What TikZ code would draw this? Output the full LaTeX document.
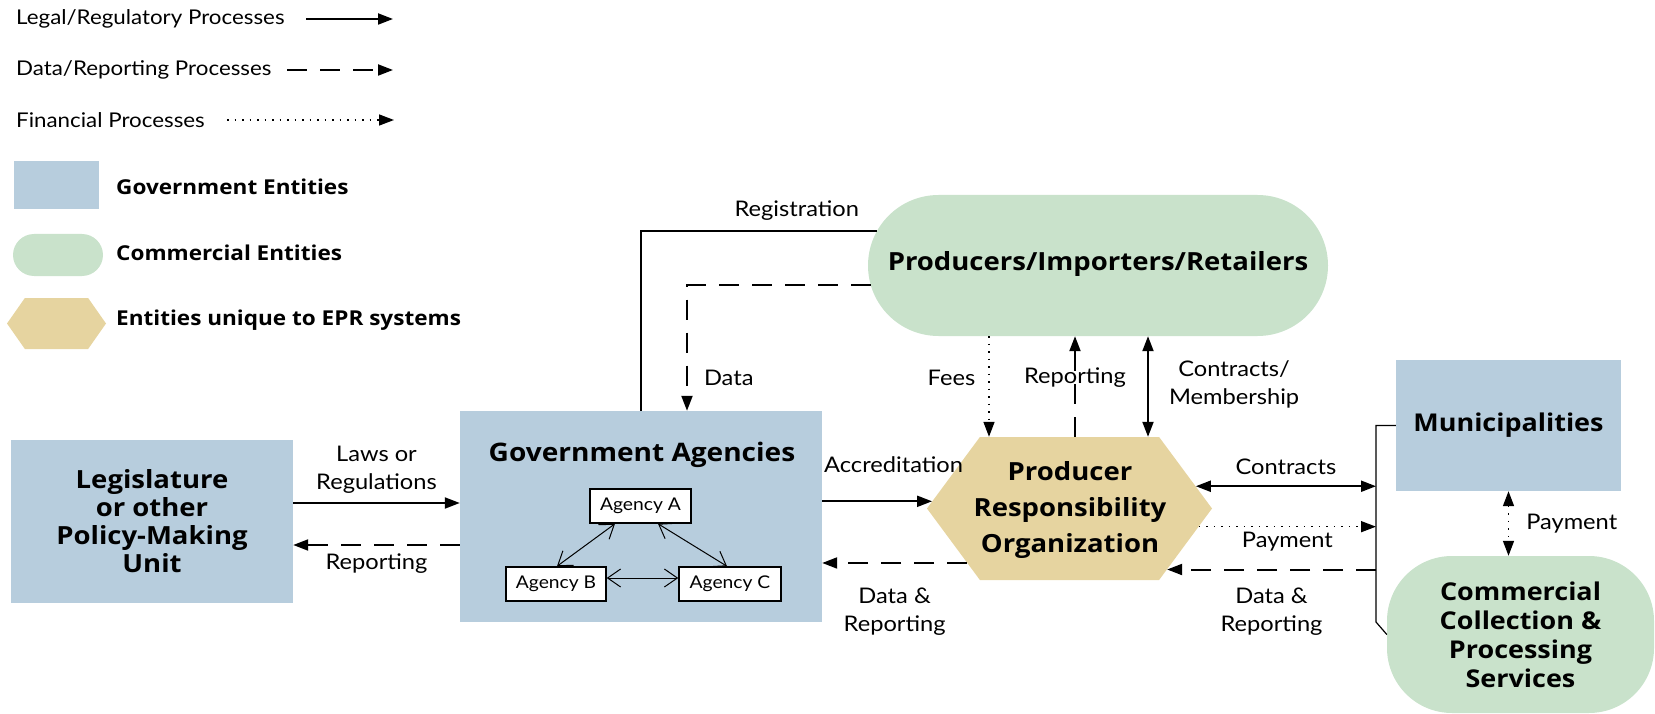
\documentclass[tikz,border=0pt]{standalone}
\usepackage{fontspec}
\setmainfont{Lato}[FakeStretch=1.1]
\newfontfamily\headfont{Open Sans}[FakeStretch=1.1]
\usetikzlibrary{arrows.meta,shapes.symbols,shapes.misc}
\definecolor{govblue}{RGB}{183,205,221}
\definecolor{comgreen}{RGB}{201,226,203}
\definecolor{eprtan}{RGB}{230,212,160}
\tikzset{
  legalline/.style={line width=2pt},
  dataline/.style={line width=2pt, dash pattern=on 20pt off 13pt},
  finline/.style={line width=1.5pt, dash pattern=on 1.5pt off 6pt},
  onehead/.style={-{Triangle[length=15pt,width=11pt]}},
  twohead/.style={{Triangle[length=15pt,width=11pt]}-{Triangle[length=15pt,width=11pt]}},
  govbox/.style={rectangle, fill=govblue, inner sep=0pt},
  combox/.style={rounded rectangle, fill=comgreen, inner sep=0pt},
  eprbox/.style={signal, signal to=west and east, signal pointer angle=107, fill=eprtan, inner sep=0pt},
  boldtxt/.style n args={2}{font=\headfont\bfseries\fontsize{#1}{#2}\selectfont, align=center, inner sep=0pt},
  lbl/.style={font=\fontsize{21.5}{28}\selectfont, align=center, inner sep=0pt},
  keylbl/.style={font=\fontsize{20.3}{24}\selectfont, inner sep=0pt, anchor=west},
  agbox/.style={draw, line width=1.5pt, fill=white, minimum width=101, minimum height=34, inner sep=0pt, font=\fontsize{17.5}{20}\selectfont},
  aglink/.style={line width=1pt, {Straight Barb[length=13pt,width=18pt]}-{Straight Barb[length=13pt,width=18pt]}},
  bracket/.style={line width=1.2pt}
}
\begin{document}
\begin{tikzpicture}[x=1pt,y=-1pt]
\useasboundingbox (0,0) rectangle (1655,714);

% legend
\node[keylbl] (lgLegal) at (16,19) {Legal/Regulatory Processes};
\node[keylbl] (lgData) at (16,70) {Data/Reporting Processes};
\node[keylbl] (lgFin) at (16,120) {Financial Processes};
\coordinate (lgLegalA) at (306,19); \coordinate (lgLegalB) at (393,19);
\coordinate (lgDataA) at (287,70); \coordinate (lgDataB) at (393,70);
\coordinate (lgFinA) at (227,120); \coordinate (lgFinB) at (394,120);
\draw[legalline, onehead] (lgLegalA) -- (lgLegalB);
\draw[dataline, onehead] (lgDataA) -- (lgDataB);
\draw[finline, onehead] (lgFinA) -- (lgFinB);
\node[govbox, minimum width=85, minimum height=48] (lgGov) at (56,185) {};
\node[combox, minimum width=90, minimum height=42] (lgCom) at (58,255) {};
\node[eprbox, signal pointer angle=110, minimum width=99, minimum height=51] (lgEpr) at (56.5,323.5) {};
\node[boldtxt={20.5}{24}, anchor=west] (lgGovText) at (116,187) {Government Entities};
\node[boldtxt={20.5}{24}, anchor=west] (lgComText) at (116,253) {Commercial Entities};
\node[boldtxt={20.5}{24}, anchor=west] (lgEprText) at (116,320) {Entities unique to EPR systems};

% entities
\node[govbox, boldtxt={25}{28}, minimum width=282, minimum height=163] (legis) at (152,521.5)
  {Legislature\\or other\\Policy-Making\\Unit};
\node[govbox, minimum width=362, minimum height=211] (gov) at (641,516.5) {};
\node[boldtxt={25.5}{30}] (govTitle) at (642,455) {Government Agencies};
\node[agbox] (agA) at (640.5,506) {Agency A};
\node[agbox, minimum width=100] (agB) at (556,584) {Agency B};
\node[agbox, minimum width=102] (agC) at (730,584) {Agency C};
\node[combox, minimum width=460, minimum height=141] (prod) at (1098,265.5) {};
\node[boldtxt={25}{28}] (prodText) at (1098,264) {Producers/Importers/Retailers};
\node[eprbox, minimum width=285, minimum height=143] (pro) at (1069.5,508.5) {};
\node[boldtxt={25}{36}] (proText) at (1070,510) {Producer\\Responsibility\\Organization};
\node[govbox, boldtxt={24.5}{28}, minimum width=225, minimum height=131] (muni) at (1508.5,425.5) {Municipalities};
\node[fill=comgreen, rounded corners=65pt, boldtxt={24.5}{29}, minimum width=267, minimum height=157] (comm) at (1520.5,634.5)
  {Commercial\\Collection \&\\Processing\\Services};

% links inside the agencies box
\draw[aglink] ([xshift=-25.5pt]agA.south) -- ([xshift=1pt]agB.north);
\draw[aglink] ([xshift=17.5pt]agA.south) -- ([xshift=-3pt]agC.north);
\draw[aglink] ([yshift=6pt]agB.east) -- ([yshift=6pt]agC.west);

% connectors
\coordinate (fx) at (989,0);
\coordinate (rx) at (1075,0);
\coordinate (cx) at (1148,0);
\coordinate (brk) at (1376,622);
\draw[legalline, onehead] (legis.east |- 0,503) -- node[lbl, above=9pt] {Laws or\\Regulations} (gov.west |- 0,503);
\draw[dataline, onehead] (gov.west |- 0,545) -- node[lbl, below=8pt] {Reporting} (legis.east |- 0,545);
\draw[legalline] (gov.north) |- (prod.171) node[lbl, pos=0.83, above=9pt] {Registration};
\draw[dataline, onehead] (prod.185) -| ([xshift=46pt]gov.north) node[lbl, pos=0.87, right=16pt] {Data};
\draw[finline, onehead] (prod.south -| fx) -- node[lbl, pos=0.41, left=13pt] {Fees} (pro.north -| fx);
\draw[dataline, onehead] (pro.north -| rx) -- node[lbl, pos=0.59] {Reporting} (prod.south -| rx);
\draw[legalline, twohead] (prod.south -| cx) -- node[lbl, pos=0.48, right=20pt] {Contracts/\\Membership} (pro.north -| cx);
\draw[legalline, onehead] (gov.east |- pro.177) -- node[lbl, pos=0.65, above=28pt] {Accreditation} (pro.177);
\draw[dataline, onehead] (pro.208) -- node[lbl, below=24pt] {Data \&\\Reporting} (gov.east |- pro.208);
\draw[bracket] (muni.west) -| (brk) -- (comm.west);
\draw[legalline, twohead] (pro.10) -- node[lbl, above=11pt] {Contracts} (brk |- pro.10);
\draw[finline, onehead] (pro.352) -- node[lbl, below=5pt] {Payment} (brk |- pro.352);
\draw[dataline, onehead] (brk |- pro.328) -- node[lbl, below=17pt] {Data \&\\Reporting} (pro.328);
\draw[finline, twohead] (muni.south) -- node[lbl, right=17pt] {Payment} (muni.south |- comm.north);
\end{tikzpicture}
\end{document}
